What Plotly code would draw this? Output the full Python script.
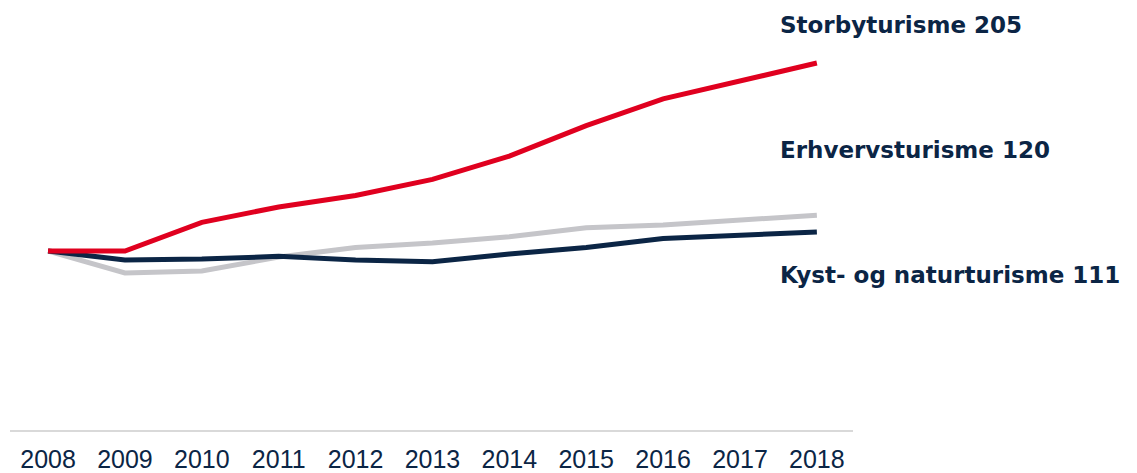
import plotly.graph_objects as go

years = [2008, 2009, 2010, 2011, 2012, 2013, 2014, 2015, 2016, 2017, 2018]
storby = [100, 100, 116, 124.6, 131, 140, 153, 170, 185, 195, 205]
erhverv = [100, 87.7, 88.8, 96.6, 102, 104.5, 108, 113, 114.5, 117, 120]
kyst = [100, 95, 95.5, 97, 95, 94, 98.3, 102, 107, 109, 110.6]

series = [
    ("Erhvervsturisme", erhverv, "#C5C5C9"),
    ("Kyst- og naturturisme", kyst, "#0B2545"),
    ("Storbyturisme", storby, "#E0001F"),
]
labels = [
    ("Storbyturisme 205", 226),
    ("Erhvervsturisme 120", 156.5),
    ("Kyst- og naturturisme 111", 86.5),
]

NAVY = "#0B2545"

fig = go.Figure()
for name, vals, color in series:
    fig.add_trace(go.Scatter(
        x=years, y=vals, mode="lines", name=name,
        line=dict(color=color, width=5),
        hoverinfo="x+y+name",
    ))

for text, yv in labels:
    fig.add_annotation(
        x=0.911, xref="paper", y=yv, yref="y",
        text=f"<b>{text}</b>", showarrow=False,
        xanchor="left", yanchor="middle",
        font=dict(family="DejaVu Sans", size=23, color=NAVY),
    )

fig.update_layout(
    width=1137, height=473,
    plot_bgcolor="white", paper_bgcolor="white",
    showlegend=False,
    margin=dict(l=2, r=292, t=0, b=51),
    xaxis=dict(
        range=[2007.505, 2018.47], tickmode="array", tickvals=years,
        showgrid=False, zeroline=False, showline=True,
        linecolor="#D9D9D9", linewidth=2,
        ticklabelstandoff=6,
        tickfont=dict(family="Liberation Sans", size=25, color=NAVY),
    ),
    yaxis=dict(range=[0, 235.75], visible=False),
)

fig.write_html("out.html")
